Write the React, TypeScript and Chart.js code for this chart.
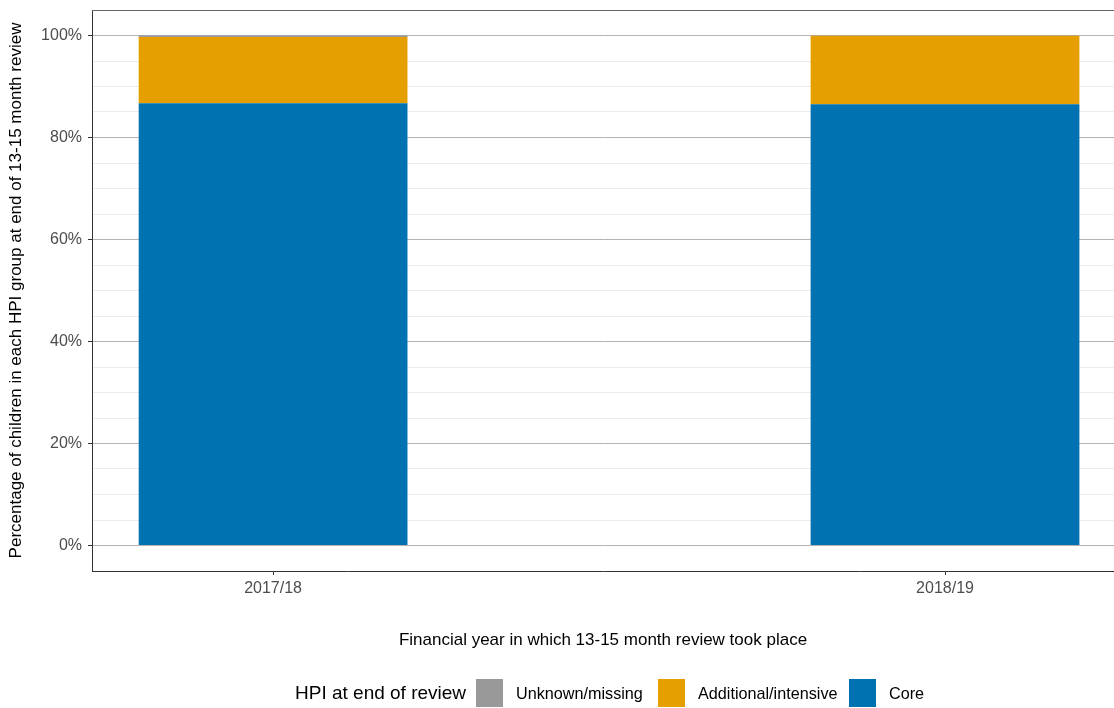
import React, { useEffect, useRef } from "react";
import { Chart, registerables } from "chart.js";

Chart.register(...registerables);

const categories = ["2017/18", "2018/19"];
const categoryPositions = [1, 2];
const coreValues = [86.7, 86.5];
const additionalValues = [13.0, 13.45];
const unknownValues = [0.3, 0.05];
const yLabelTicks = [0, 20, 40, 60, 80, 100];
const seriesNames = ["Unknown/missing", "Additional/intensive", "Core"];
const seriesColors = ["#999999", "#E69F00", "#0072B2"];

const FONT = "'Liberation Sans', Arial, sans-serif";
const legendBoxLeft = [476, 658, 849];

const topBorder = {
  id: "topBorder",
  afterDraw(chart: any) {
    const { ctx, chartArea } = chart;
    ctx.save();
    ctx.strokeStyle = "#666666";
    ctx.lineWidth = 1;
    ctx.beginPath();
    ctx.moveTo(chartArea.left, Math.round(chartArea.top) + 0.5);
    ctx.lineTo(chartArea.right, Math.round(chartArea.top) + 0.5);
    ctx.stroke();
    ctx.restore();
  },
};

export default function App() {
  const ref = useRef<HTMLCanvasElement>(null);

  useEffect(() => {
    document.body.style.margin = "0";
    const toPts = (vals: number[]) => vals.map((v, i) => ({ x: categoryPositions[i], y: v }));
    const isLabelTick = (v: number) => yLabelTicks.includes(v);
    const chart = new Chart(ref.current as HTMLCanvasElement, {
      type: "bar",
      data: {
        datasets: [
          { label: seriesNames[2], data: toPts(coreValues), backgroundColor: seriesColors[2] },
          { label: seriesNames[1], data: toPts(additionalValues), backgroundColor: seriesColors[1] },
          { label: seriesNames[0], data: toPts(unknownValues), backgroundColor: seriesColors[0] },
        ] as any,
      },
      options: {
        responsive: false,
        animation: false,
        devicePixelRatio: 1,
        layout: { padding: { top: 10, left: 0, right: 0, bottom: 57 } },
        datasets: { bar: { barPercentage: 1, categoryPercentage: 0.4, borderWidth: 0 } } as any,
        plugins: { legend: { display: false }, tooltip: { enabled: false } },
        scales: {
          x: {
            type: "linear",
            stacked: true,
            offset: false,
            min: 0.7305,
            max: 2.2515,
            afterBuildTicks: (scale: any) => {
              scale.ticks = categoryPositions.map((v) => ({ value: v }));
            },
            afterFit: (scale: any) => {
              scale.height = 80;
              scale.paddingLeft = 0;
              scale.paddingRight = 0;
            },
            ticks: {
              callback: (v: any) => {
                const i = categoryPositions.indexOf(Number(v));
                return i >= 0 ? categories[i] : "";
              },
              font: { family: FONT, size: 16 },
              color: "#4d4d4d",
              padding: 4,
              maxRotation: 0,
              autoSkip: false,
            },
            grid: {
              offset: false,
              drawOnChartArea: false,
              drawTicks: true,
              tickLength: 4,
              tickColor: "#333333",
              tickWidth: 1,
            },
            border: { display: true, color: "#333333", width: 1 },
            title: {
              display: true,
              text: "Financial year in which 13-15 month review took place",
              font: { family: FONT, size: 17 },
              color: "#000000",
              padding: { top: 0, bottom: 0 },
            },
          },
          y: {
            type: "linear",
            stacked: true,
            min: -5,
            max: 105,
            afterFit: (scale: any) => {
              scale.width = 92;
              scale.paddingTop = 0;
              scale.paddingBottom = 0;
            },
            ticks: {
              stepSize: 5,
              autoSkip: false,
              callback: (v: any) => (isLabelTick(Number(v)) ? v + "%" : ""),
              font: { family: FONT, size: 16 },
              color: "#4d4d4d",
              padding: 6,
            },
            grid: {
              color: (ctx: any) => {
                const v = ctx.tick ? ctx.tick.value : 0;
                if (v < 0 || v > 100) return "rgba(0,0,0,0)";
                return isLabelTick(v) ? "#b3b3b3" : "#ebebeb";
              },
              tickColor: (ctx: any) => {
                const v = ctx.tick ? ctx.tick.value : 0;
                return isLabelTick(v) ? "#333333" : "rgba(0,0,0,0)";
              },
              tickLength: 4,
              lineWidth: 1,
            },
            border: { display: true, color: "#333333", width: 1 },
            title: {
              display: true,
              text: "Percentage of children in each HPI group at end of 13-15 month review",
              font: { family: FONT, size: 17 },
              color: "#000000",
              padding: { top: 6, bottom: 0 },
            },
          },
        },
      },
      plugins: [topBorder],
    });
    return () => chart.destroy();
  }, []);

  const legendItems = [0, 1, 2];

  return (
    <div style={{ position: "relative", width: 1114, height: 708, fontFamily: FONT, overflow: "hidden" }}>
      <canvas ref={ref} width={1114} height={708} style={{ display: "block" }} />
      <div style={{ position: "absolute", left: 295, top: 679, height: 28, lineHeight: "28px", fontSize: 19, color: "#000", whiteSpace: "nowrap" }}>
        HPI at end of review
      </div>
      {legendItems.map((i) => (
        <React.Fragment key={i}>
          <div style={{ position: "absolute", left: legendBoxLeft[i], top: 679, width: 27, height: 28, background: seriesColors[i] }} />
          <div style={{ position: "absolute", left: legendBoxLeft[i] + 40, top: 679, height: 28, lineHeight: "28px", fontSize: 16.2, color: "#000", whiteSpace: "nowrap" }}>
            {seriesNames[i]}
          </div>
        </React.Fragment>
      ))}
    </div>
  );
}
